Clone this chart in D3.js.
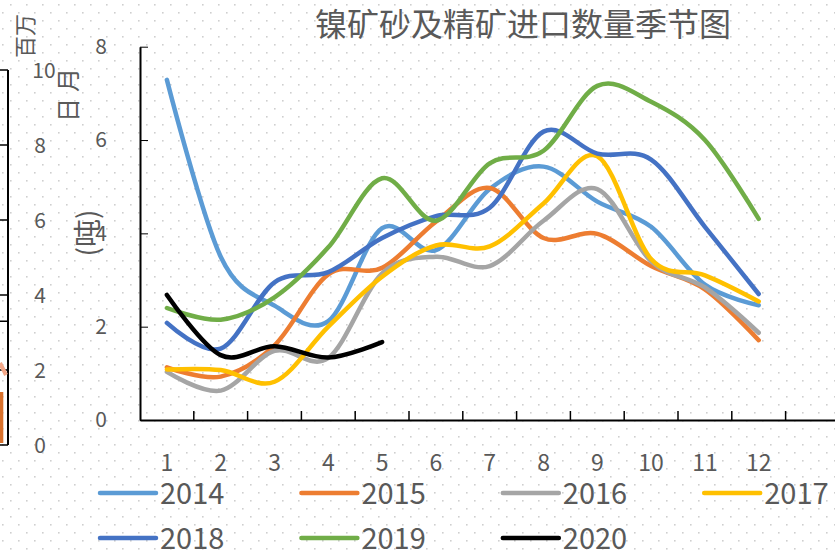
<!DOCTYPE html>
<html>
<head>
<meta charset="utf-8">
<script src="https://cdn.jsdelivr.net/npm/d3@7"></script>
<style>
  body { margin: 0; background: #fff; }
  svg { display: block; font-family: "Noto Sans CJK SC", "Noto Sans", sans-serif; }
  .axis path, .axis line { stroke: #000; }
  .axis text { fill: #595959; }
</style>
</head>
<body>
<svg width="835" height="550"></svg>
<script>
// data (million tonnes)
var months = [1, 2, 3, 4, 5, 6, 7, 8, 9, 10, 11, 12];
var years = ["2014", "2015", "2016", "2017", "2018", "2019", "2020"];
var colors = ["#5B9BD5", "#ED7D31", "#A5A5A5", "#FFC000", "#4472C4", "#70AD47", "#000000"];
var v2014 = [7.29, 3.5, 2.45, 2.12, 4.11, 3.64, 4.95, 5.43, 4.68, 4.14, 2.9, 2.46];
var v2015 = [1.13, 0.93, 1.6, 3.12, 3.26, 4.25, 4.97, 3.9, 3.99, 3.3, 2.8, 1.71];
var v2016 = [1.03, 0.63, 1.48, 1.33, 3.14, 3.5, 3.3, 4.27, 4.95, 3.4, 2.84, 1.87];
var v2017 = [1.08, 1.07, 0.82, 2.0, 3.07, 3.74, 3.72, 4.64, 5.65, 3.45, 3.1, 2.54];
var v2018 = [2.08, 1.53, 2.95, 3.17, 3.9, 4.37, 4.55, 6.18, 5.71, 5.58, 4.14, 2.7];
var v2019 = [2.4, 2.15, 2.63, 3.7, 5.18, 4.27, 5.5, 5.77, 7.16, 6.82, 6.0, 4.31];
var v2020 = [2.68, 1.39, 1.58, 1.34, 1.67];
var yTicks = [0, 2, 4, 6, 8];
// stray axis left over from another chart at the left edge
var leftTicks = [0, 2, 4, 6, 8, 10];

var series = [v2014, v2015, v2016, v2017, v2018, v2019, v2020];

var svg = d3.select("svg");

// dotted background
var pat = svg.append("defs").append("pattern")
    .attr("id", "dots").attr("patternUnits", "userSpaceOnUse")
    .attr("width", 16).attr("height", 16);
pat.append("rect").attr("x", 2).attr("y", 12).attr("width", 1.6).attr("height", 1.6).attr("fill", "#cfcfcf");
pat.append("rect").attr("x", 10).attr("y", 4).attr("width", 1.6).attr("height", 1.6).attr("fill", "#cfcfcf");
svg.append("rect").attr("width", 835).attr("height", 550).attr("fill", "url(#dots)");

var x = d3.scaleBand()
    .domain(months.concat([13]))
    .range([140, 140 + 13 * 53.8]);

var y = d3.scaleLinear()
    .domain([0, 8])
    .range([420, 46.7]);

// left-over pieces at the left edge
var yl = d3.scaleLinear().domain([0, 10]).range([445, 70]);
svg.append("line").attr("x1", 8).attr("x2", 8).attr("y1", 70).attr("y2", 445)
    .attr("stroke", "#000").attr("stroke-width", 2);
svg.selectAll(".lt").data(leftTicks.concat([3.3])).enter().append("line")
    .attr("x1", 0).attr("x2", 8)
    .attr("y1", function(d) { return yl(d); }).attr("y2", function(d) { return yl(d); })
    .attr("stroke", "#000").attr("stroke-width", 1.5);
svg.append("rect").attr("x", 0).attr("y", 392).attr("width", 3.3).attr("height", 51).attr("fill", "#D9712C");
svg.append("line").attr("x1", 0).attr("y1", 363).attr("x2", 6).attr("y2", 375)
    .attr("stroke", "#F4A98A").attr("stroke-width", 4);
svg.selectAll(".ll").data(leftTicks).enter().append("text")
    .attr("x", function(d) { return d === 10 ? 44 : 40; })
    .attr("y", function(d) { return yl(d); })
    .attr("dy", "0.36em")
    .attr("text-anchor", "middle")
    .attr("font-size", 21)
    .attr("fill", "#595959")
    .text(function(d) { return d; });

svg.append("text").attr("transform", "translate(25,36) rotate(-90)")
    .attr("text-anchor", "middle").attr("dy", "0.36em")
    .attr("font-size", 22).attr("fill", "#595959").text("百万");
svg.append("text").attr("transform", "translate(68,92) rotate(-90)")
    .attr("text-anchor", "middle").attr("dy", "0.36em").attr("letter-spacing", 6)
    .attr("font-size", 24).attr("fill", "#595959").text("日月");
svg.append("text").attr("transform", "translate(88,233) rotate(-90)")
    .attr("text-anchor", "middle").attr("dy", "0.36em")
    .attr("font-size", 28).attr("fill", "#595959").text("(吨)");

// title
svg.append("text")
    .attr("x", 523).attr("y", 24)
    .attr("text-anchor", "middle").attr("dy", "0.36em")
    .attr("font-size", 32).attr("fill", "#595959")
    .text("镍矿砂及精矿进口数量季节图");

// y axis
svg.append("g")
    .attr("class", "axis")
    .attr("transform", "translate(140,0)")
    .call(d3.axisLeft(y).tickValues(yTicks).tickSize(-8).tickSizeOuter(0).tickPadding(33))
    .call(function(g) {
      g.select(".domain").attr("stroke-width", 2);
      g.selectAll("text").attr("font-size", 21).attr("font-family", "Noto Sans CJK SC");
    });

// x axis
var xg = svg.append("g")
    .attr("class", "axis")
    .attr("transform", "translate(0,420)")
    .call(d3.axisBottom(x).tickSize(0).tickSizeOuter(0).tickPadding(35)
      .tickFormat(function(d) { return d > 12 ? "" : d; }))
    .call(function(g) {
      g.select(".domain").attr("stroke-width", 2);
      g.selectAll("text").attr("font-size", 23).attr("font-family", "Noto Sans CJK SC");
    });
xg.selectAll(".bnd").data(months).enter().append("line")
    .attr("x1", function(d) { return x(d) + x.bandwidth(); })
    .attr("x2", function(d) { return x(d) + x.bandwidth(); })
    .attr("y1", 0).attr("y2", -9)
    .attr("stroke", "#000").attr("stroke-width", 1.5);

// lines
var line = d3.line()
    .x(function(d, i) { return x(months[i]) + x.bandwidth() / 2; })
    .y(function(d) { return y(d); })
    .curve(d3.curveCatmullRom.alpha(0));

svg.selectAll(".series").data(series).enter().append("path")
    .attr("class", "series")
    .attr("d", line)
    .attr("fill", "none")
    .attr("stroke", function(d, i) { return colors[i]; })
    .attr("stroke-width", 4.5)
    .attr("stroke-linecap", "round")
    .attr("stroke-linejoin", "round");

// legend
var leg = svg.selectAll(".leg").data(years).enter().append("g")
    .attr("class", "leg")
    .attr("transform", function(d, i) {
      return "translate(" + (100 + (i % 4) * 201.4) + "," + (493 + Math.floor(i / 4) * 45) + ")";
    });
leg.append("line")
    .attr("x1", 0).attr("x2", 56)
    .attr("stroke", function(d, i) { return colors[i]; })
    .attr("stroke-width", 4.5)
    .attr("stroke-linecap", "round");
leg.append("text")
    .attr("x", 60).attr("y", 11)
    .attr("font-size", 29).attr("fill", "#595959")
    .text(function(d) { return d; });
</script>
</body>
</html>
